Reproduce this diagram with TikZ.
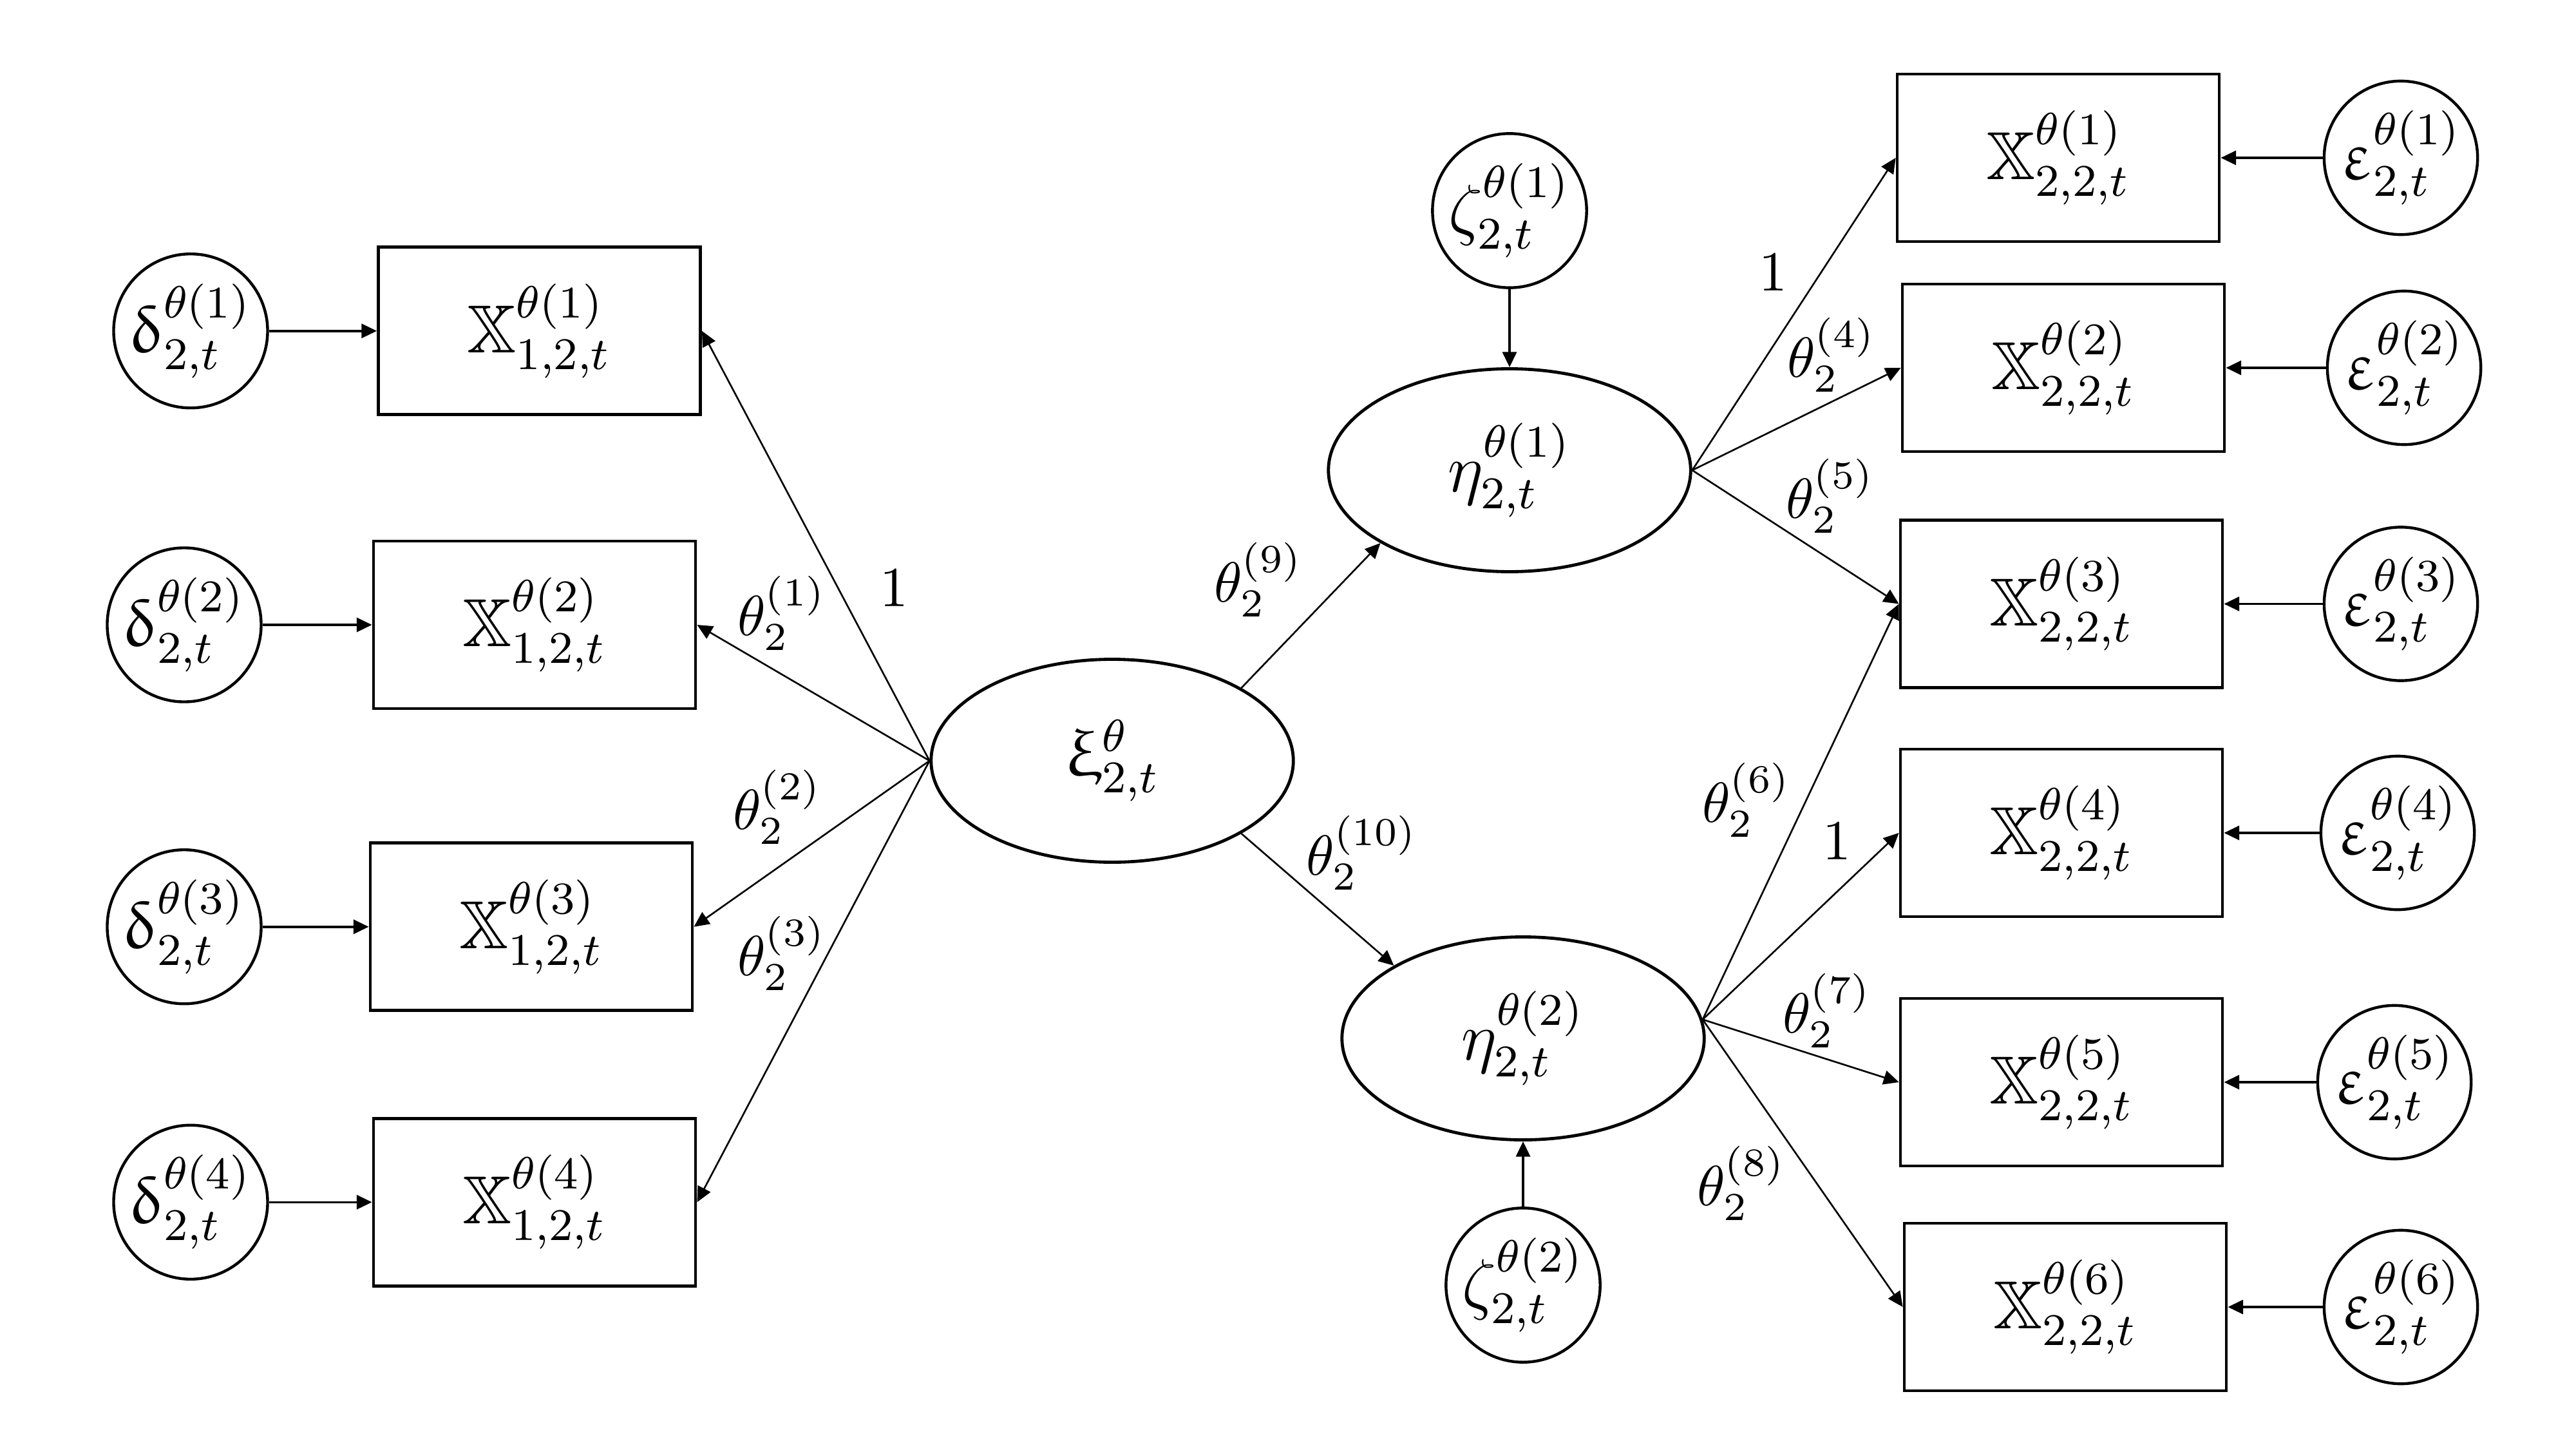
\documentclass[tikz,border=0pt]{standalone}
\usepackage{amsmath,amssymb,upgreek}
\usetikzlibrary{arrows.meta, shapes.geometric}

\begin{document}
\begin{tikzpicture}[
  obs/.style={draw, line width=0.55pt, minimum width=2cm, minimum height=1.04cm,
    inner sep=0pt, font=\large},
  err/.style={circle, draw, line width=0.5pt, minimum size=0.9cm, inner sep=0pt,
    font=\large},
  lat/.style={ellipse, draw, line width=0.55pt, minimum width=2.25cm,
    minimum height=1.26cm, inner sep=0pt, font=\large},
  >={Triangle[length=2.7pt, width=2.5pt]},
  load/.style={->, line width=0.3pt},
  errarrow/.style={->, line width=0.4pt},
  coef/.style={font=\normalsize, inner sep=0pt},
]

% Page frame
\useasboundingbox (0,0) rectangle (16,9);

% ============================================================
% Exogenous block (left)
% ============================================================

% Indicators of xi
\node[obs] (x1) at (3.35,6.945) {$\mathbb{X}^{\theta(1)}_{1,2,t}$};
\node[obs] (x2) at (3.32,5.12) {$\mathbb{X}^{\theta(2)}_{1,2,t}$};
\node[obs] (x3) at (3.30,3.245) {$\mathbb{X}^{\theta(3)}_{1,2,t}$};
\node[obs] (x4) at (3.32,1.535) {$\mathbb{X}^{\theta(4)}_{1,2,t}$};

% Measurement errors delta
\node[err] (d1) at (1.184,6.945) {$\updelta^{\theta(1)}_{2,t}$};
\node[err] (d2) at (1.144,5.12) {$\updelta^{\theta(2)}_{2,t}$};
\node[err] (d3) at (1.144,3.245) {$\updelta^{\theta(3)}_{2,t}$};
\node[err] (d4) at (1.184,1.535) {$\updelta^{\theta(4)}_{2,t}$};

\draw[errarrow] (d1) -- (x1);
\draw[errarrow] (d2) -- (x2);
\draw[errarrow] (d3) -- (x3);
\draw[errarrow] (d4) -- (x4);

% Latent xi
\node[lat] (xi) at (6.908,4.276) {$\upxi^{\theta}_{2,t}$};

\draw[load] (xi.west) -- (x1.east);
\draw[load] (xi.west) -- (x2.east);
\draw[load] (xi.west) -- (x3.east);
\draw[load] (xi.west) -- (x4.east);

\node[coef] (c1) at (5.552,5.348) {$1$};
\node[coef] (c2) at (4.856,5.192) {$\theta_2^{(1)}$};
\node[coef] (c3) at (4.828,3.988) {$\theta_2^{(2)}$};
\node[coef] (c4) at (4.856,3.08) {$\theta_2^{(3)}$};

% ============================================================
% Endogenous latents (middle)
% ============================================================

\node[lat] (eta1) at (9.376,6.08) {$\eta^{\theta(1)}_{2,t}$};
\node[lat] (eta2) at (9.46,2.552) {$\eta^{\theta(2)}_{2,t}$};

\node[err] (z1) at (9.376,7.692) {$\zeta^{\theta(1)}_{2,t}$};
\node[err] (z2) at (9.46,1.02) {$\zeta^{\theta(2)}_{2,t}$};

\draw[errarrow] (z1) -- (eta1);
\draw[errarrow] (z2) -- (eta2);

\draw[load] (xi.north east) -- (eta1.south west);
\draw[load] (xi.south east) -- (eta2.north west);

\node[coef] (c9) at (7.816,5.4) {$\theta_2^{(9)}$};
\node[coef] (c10) at (8.46,3.704) {$\theta_2^{(10)}$};

% ============================================================
% Indicators of eta (right)
% ============================================================

\node[obs] (y1) at (12.784,8.02) {$\mathbb{X}^{\theta(1)}_{2,2,t}$};
\node[obs] (y2) at (12.816,6.716) {$\mathbb{X}^{\theta(2)}_{2,2,t}$};
\node[obs] (y3) at (12.804,5.25) {$\mathbb{X}^{\theta(3)}_{2,2,t}$};
\node[obs] (y4) at (12.804,3.828) {$\mathbb{X}^{\theta(4)}_{2,2,t}$};
\node[obs] (y5) at (12.804,2.28) {$\mathbb{X}^{\theta(5)}_{2,2,t}$};
\node[obs] (y6) at (12.828,0.884) {$\mathbb{X}^{\theta(6)}_{2,2,t}$};

\node[err] (e1) at (14.912,8.02) {$\upvarepsilon^{\theta(1)}_{2,t}$};
\node[err] (e2) at (14.932,6.716) {$\upvarepsilon^{\theta(2)}_{2,t}$};
\node[err] (e3) at (14.912,5.25) {$\upvarepsilon^{\theta(3)}_{2,t}$};
\node[err] (e4) at (14.892,3.828) {$\upvarepsilon^{\theta(4)}_{2,t}$};
\node[err] (e5) at (14.872,2.28) {$\upvarepsilon^{\theta(5)}_{2,t}$};
\node[err] (e6) at (14.912,0.884) {$\upvarepsilon^{\theta(6)}_{2,t}$};

\draw[errarrow] (e1) -- (y1);
\draw[errarrow] (e2) -- (y2);
\draw[errarrow] (e3) -- (y3);
\draw[errarrow] (e4) -- (y4);
\draw[errarrow] (e5) -- (y5);
\draw[errarrow] (e6) -- (y6);

% eta1 loadings
\draw[load] (eta1.east) -- (y1.west);
\draw[load] (eta1.east) -- (y2.west);
\draw[load] (eta1.east) -- (y3.west);

% eta2 loadings
\draw[load] (eta2.6) -- (y3.west);
\draw[load] (eta2.6) -- (y4.west);
\draw[load] (eta2.6) -- (y5.west);
\draw[load] (eta2.6) -- (y6.west);

\node[coef] (c11) at (11.012,7.308) {$1$};
\node[coef] (c5) at (11.376,6.796) {$\theta_2^{(4)}$};
\node[coef] (c6) at (11.368,5.92) {$\theta_2^{(5)}$};
\node[coef] (c7) at (10.848,4.032) {$\theta_2^{(6)}$};
\node[coef] (c12) at (11.408,3.776) {$1$};
\node[coef] (c8) at (11.348,2.724) {$\theta_2^{(7)}$};
\node[coef] (c13) at (10.816,1.652) {$\theta_2^{(8)}$};

\end{tikzpicture}
\end{document}
